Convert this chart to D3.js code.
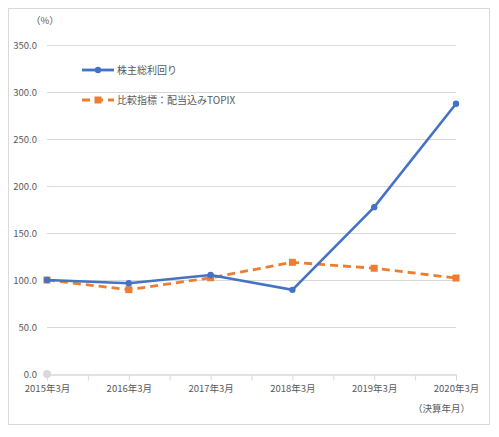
<!DOCTYPE html>
<html>
<head>
<meta charset="utf-8">
<script src="https://cdn.jsdelivr.net/npm/d3@7"></script>
<style>
  body { margin: 0; background: #fff; }
  text { font-family: "Noto Sans CJK JP", "Noto Sans", sans-serif; }
</style>
</head>
<body>
<div id="chart"></div>
<script>
const years = ['2015年3月', '2016年3月', '2017年3月', '2018年3月', '2019年3月', '2020年3月']
const tsrValues = [100.0, 96.5, 105.3, 89.5, 177.5, 287.5]
const topixValues = [100.0, 89.7, 102.4, 118.8, 112.5, 102.1]
const yTicks = [0, 50, 100, 150, 200, 250, 300, 350]
const seriesNames = ['株主総利回り', '比較指標：配当込みTOPIX']

;(function () {
  const W = 499, H = 437
  const margin = { top: 45, right: 43, bottom: 63, left: 47 }
  const width = W - margin.left - margin.right
  const height = H - margin.top - margin.bottom

  const root = d3.select('#chart').append('svg')
    .attr('width', W)
    .attr('height', H)

  // frame round the whole chart
  root.append('rect')
    .attr('x', 8.5).attr('y', 8.5)
    .attr('width', 481).attr('height', 416)
    .attr('fill', '#fff')
    .attr('stroke', '#d9d9d9')

  const svg = root.append('g')
    .attr('transform', 'translate(' + margin.left + ',' + margin.top + ')')

  const x = d3.scalePoint().domain(years).range([0, width])
  // helper for ticks that sit between the categories too
  const xIdx = d3.scaleLinear().domain([0, years.length - 1]).range([0, width])
  const y = d3.scaleLinear().domain([0, 350]).range([height, 0])

  // gridlines
  svg.append('g')
    .selectAll('line')
    .data(yTicks.filter(d => d > 0))
    .join('line')
    .attr('x1', 0).attr('x2', width)
    .attr('y1', d => Math.round(y(d)) + 0.5)
    .attr('y2', d => Math.round(y(d)) + 0.5)
    .attr('stroke', '#d9d9d9')

  const yAxis = d3.axisLeft(y).tickValues(yTicks).tickSize(0).tickPadding(10)
    .tickFormat(d3.format('.1f'))
  svg.append('g')
    .attr('class', 'axis y-axis')
    .call(yAxis)
    .call(g => g.select('.domain').remove())
    .call(g => g.selectAll('text').attr('fill', '#595959').attr('font-size', 9.5))

  const xAxis = d3.axisBottom(xIdx)
    .tickValues(d3.range(0, years.length - 0.5, 0.5))
    .tickSize(6).tickSizeOuter(0).tickPadding(5)
    .tickFormat(d => Number.isInteger(d) ? years[d] : '')
  svg.append('g')
    .attr('class', 'axis x-axis')
    .attr('transform', 'translate(0,' + (Math.round(height) + 0.5) + ')')
    .call(xAxis)
    .call(g => g.select('.domain').attr('stroke', '#d9d9d9').attr('stroke-width', 1.5))
    .call(g => g.selectAll('line').attr('stroke', '#d9d9d9'))
    .call(g => g.selectAll('text').attr('fill', '#595959').attr('font-size', 9.5))

  svg.append('circle')
    .attr('cx', 0).attr('cy', height)
    .attr('r', 4)
    .attr('fill', '#d9d9d9')

  svg.append('text')
    .attr('x', -16).attr('y', -21)
    .attr('font-size', 9.5)
    .attr('fill', '#595959')
    .text('（%）')

  svg.append('text')
    .attr('x', width + 14).attr('y', height + 38)
    .attr('text-anchor', 'end')
    .attr('font-size', 9.5)
    .attr('fill', '#595959')
    .text('（決算年月）')

  const line = d3.line()
    .x((d, i) => x(years[i]))
    .y(d => y(d))

  // comparison index (orange, dashed, squares)
  svg.append('path')
    .datum(topixValues)
    .attr('fill', 'none')
    .attr('stroke', '#ed7d31')
    .attr('stroke-width', 2.8)
    .attr('stroke-dasharray', '8,5')
    .attr('d', line)

  svg.selectAll('.sq')
    .data(topixValues)
    .join('rect')
    .attr('class', 'sq')
    .attr('x', (d, i) => x(years[i]) - 3.5)
    .attr('y', d => y(d) - 3.5)
    .attr('width', 7).attr('height', 7)
    .attr('fill', '#ed7d31')

  // total shareholder return (blue, circles)
  svg.append('path')
    .datum(tsrValues)
    .attr('fill', 'none')
    .attr('stroke', '#4472c4')
    .attr('stroke-width', 2.6)
    .attr('d', line)

  svg.selectAll('.dot')
    .data(tsrValues)
    .join('circle')
    .attr('class', 'dot')
    .attr('cx', (d, i) => x(years[i]))
    .attr('cy', d => y(d))
    .attr('r', 3.2)
    .attr('fill', '#4472c4')

  // legend
  const legend = root.append('g')
  const items = [
    { name: seriesNames[0], color: '#4472c4', dash: null, y: 70 },
    { name: seriesNames[1], color: '#ed7d31', dash: '8,5', y: 100 }
  ]
  items.forEach((it, i) => {
    const g = legend.append('g')
    g.append('line')
      .attr('x1', 82).attr('x2', 114)
      .attr('y1', it.y).attr('y2', it.y)
      .attr('stroke', it.color)
      .attr('stroke-width', 2.8)
      .attr('stroke-dasharray', it.dash)
    if (i === 0) {
      g.append('circle').attr('cx', 98).attr('cy', it.y).attr('r', 3.2).attr('fill', it.color)
    } else {
      g.append('rect').attr('x', 94.5).attr('y', it.y - 3.5).attr('width', 7).attr('height', 7).attr('fill', it.color)
    }
    g.append('text')
      .attr('x', 117).attr('y', it.y)
      .attr('dy', '0.35em')
      .attr('font-size', 10)
      .attr('fill', '#595959')
      .text(it.name)
  })
})();
</script>
</body>
</html>
